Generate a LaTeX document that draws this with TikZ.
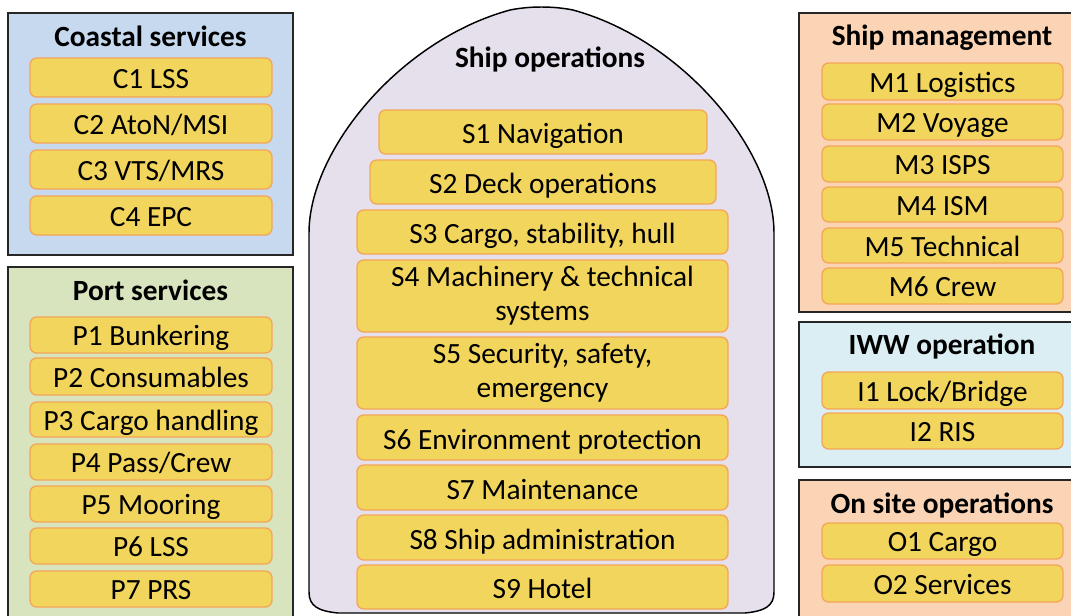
\documentclass[tikz,border=0pt]{standalone}
\usepackage{fontspec}
\setmainfont{Carlito}
\definecolor{itemfill}{HTML}{F2D55C}
\definecolor{itemline}{HTML}{F5A55A}
\definecolor{coastal}{HTML}{C6D9EF}
\definecolor{port}{HTML}{D8E4BE}
\definecolor{peach}{HTML}{FBD4B5}
\definecolor{iww}{HTML}{DBEEF4}
\definecolor{shipfill}{HTML}{E5E0EC}
\tikzset{
  grp/.style={draw=black!85, line width=1.2pt, inner sep=0pt},
  item/.style={draw=itemline, fill=itemfill, line width=1pt, rounded corners=5pt,
    inner sep=0pt, font=\fontsize{22}{26}\selectfont, text height=16.2pt, text depth=0pt},
  sitem/.style={item, font=\fontsize{22}{25.5}\selectfont, text height=17.6pt},
  twoline/.style={text height=, text depth=, align=center},
  grptitle/.style={font=\bfseries\fontsize{22}{26}\selectfont, anchor=base, inner sep=0pt},
  shipshape/.style={draw=black, line width=1.1pt, fill=shipfill}
}
\newcommand\ibox[7][]{\node[item,#1, minimum width={(#5-#3)*0.75pt}, minimum height={(#6-#4)*0.75pt}] (#2) at ({(#3+#5)/2},{(#4+#6)/2}) {#7};}
\newcommand\gbox[6]{\node[grp, fill=#2, minimum width={(#5-#3)*0.75pt}, minimum height={(#6-#4)*0.75pt}] (#1) at ({(#3+#5)/2},{(#4+#6)/2}) {};}
\begin{document}
\begin{tikzpicture}[x=0.75pt,y=-0.75pt]
\useasboundingbox (0,0) rectangle (1071,615);
\clip (0,0) rectangle (1071,615);
\fill[white] (0,0) rectangle (1071,615);
% group boxes
\gbox{coastalbox}{coastal}{8}{13}{293}{255}
\gbox{portbox}{port}{8}{267}{293}{630}
\gbox{mgmtbox}{peach}{799}{13}{1085}{312}
\gbox{iwwbox}{iww}{799}{322}{1085}{467}
\gbox{onsitebox}{peach}{799}{480}{1085}{630}
% ship
\draw[shipshape] (309,233) .. controls (309,150) and (400,40) .. (510,10)
  .. controls (530,6) and (553,6) .. (573,10)
  .. controls (683,40) and (774,150) .. (774,233) -- (774,592)
  .. controls (774,606) and (765,611) .. (745,613) -- (338,613)
  .. controls (318,611) and (309,606) .. (309,592) -- cycle;
% titles
\node[grptitle] (ctitle) at (150.5,46.5) {Coastal services};
\node[grptitle] (ptitle) at (150.5,300.5) {Port services};
\node[grptitle] (mtitle) at (942,45.5) {Ship management};
\node[grptitle] (ititle) at (942,354.5) {IWW operation};
\node[grptitle] (otitle) at (942,513.5) {On site operations};
\node[grptitle] (stitle) at (550,67.5) {Ship operations};
% coastal
\ibox{c1}{30}{58}{272}{97}{C1 LSS}
\ibox{c2}{30}{104}{272}{143}{C2 AtoN/MSI}
\ibox{c3}{30}{150}{272}{189}{C3 VTS/MRS}
\ibox{c4}{30}{196}{272}{235}{C4 EPC}
% port
\ibox{p1}{30}{317}{272}{353}{P1 Bunkering}
\ibox{p2}{30}{358}{272}{395}{P2 Consumables}
\ibox{p3}{30}{402}{272}{437}{P3 Cargo handling}
\ibox{p4}{30}{444}{272}{480}{P4 Pass/Crew}
\ibox{p5}{30}{486}{272}{522}{P5 Mooring}
\ibox{p6}{30}{528}{272}{564}{P6 LSS}
\ibox{p7}{30}{571}{272}{607}{P7 PRS}
% management
\ibox{m1}{822}{63}{1063}{100}{M1 Logistics}
\ibox{m2}{822}{104}{1063}{140}{M2 Voyage}
\ibox{m3}{822}{146}{1063}{182}{M3 ISPS}
\ibox{m4}{822}{187}{1063}{222}{M4 ISM}
\ibox{m5}{822}{228}{1063}{263}{M5 Technical}
\ibox{m6}{822}{268}{1063}{304}{M6 Crew}
% IWW
\ibox{i1}{822}{372}{1063}{409}{I1 Lock/Bridge}
\ibox{i2}{822}{413}{1063}{449}{I2 RIS}
% on site
\ibox{o1}{822}{523}{1063}{559}{O1 Cargo}
\ibox{o2}{822}{565}{1063}{602}{O2 Services}
% ship operations
\ibox[sitem]{s1}{379}{110}{707}{154}{S1 Navigation}
\ibox[sitem]{s2}{370}{160}{716}{204}{S2 Deck operations}
\ibox[sitem]{s3}{357}{210}{728}{254}{S3 Cargo, stability, hull}
\ibox[sitem,twoline]{s4}{357}{260}{728}{332}{S4 Machinery \& technical\\systems}
\ibox[sitem,twoline]{s5}{357}{337}{728}{409}{S5 Security, safety,\\emergency}
\ibox[sitem]{s6}{357}{415}{728}{460}{S6 Environment protection}
\ibox[sitem]{s7}{357}{465}{728}{510}{S7 Maintenance}
\ibox[sitem]{s8}{357}{515}{728}{560}{S8 Ship administration}
\ibox[sitem]{s9}{357}{565}{728}{609}{S9 Hotel}
\end{tikzpicture}
\end{document}
